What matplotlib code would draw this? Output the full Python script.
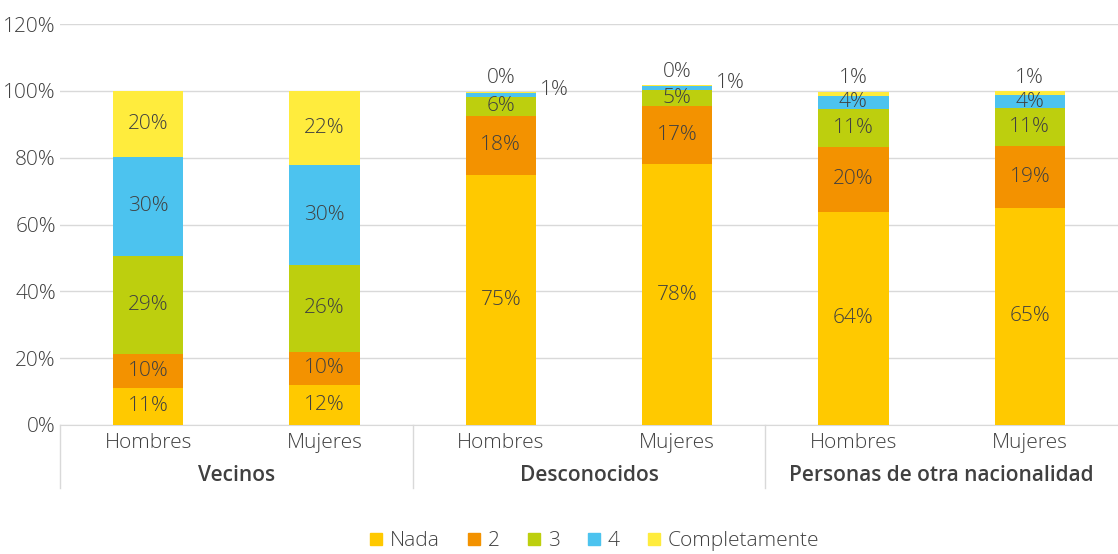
import numpy as np
import matplotlib.pyplot as plt
from matplotlib.lines import Line2D
from matplotlib.ticker import PercentFormatter
import matplotlib.transforms as mtransforms

# Datos (porcentajes)
grupos = ['Vecinos', 'Desconocidos', 'Personas de otra nacionalidad']
sexos = ['Hombres', 'Mujeres']
series = ['Nada', '2', '3', '4', 'Completamente']

nada = [11.1, 12.0, 74.9, 78.1, 63.8, 65.0]
dos = [10.2, 9.9, 17.6, 17.4, 19.5, 18.6]
tres = [29.3, 26.1, 5.8, 4.8, 11.3, 11.2]
cuatro = [29.6, 29.9, 1.0, 1.0, 3.9, 3.9]
completamente = [19.8, 22.1, 0.5, 0.4, 1.3, 1.2]

colores = ['#FFC900', '#F39200', '#BDCF0E', '#4CC3EF', '#FFEC3D']
texto = '#404040'
fs = 15

plt.rcParams['font.family'] = ['Open Sans', 'DejaVu Sans']
plt.rcParams['font.weight'] = 'light'

valores = [nada, dos, tres, cuatro, completamente]
x = np.arange(len(nada))

fig = plt.figure(figsize=(11.18, 5.54), dpi=100)
ax = fig.add_axes([60 / 1118, 129 / 554, 1058 / 1118, 401 / 554])

base = np.zeros(len(nada))
for s, vals in enumerate(valores):
    vals = np.array(vals)
    ax.bar(x, vals, 0.4, bottom=base, color=colores[s], zorder=3)
    for i, v in enumerate(vals):
        etiqueta = '%d%%' % round(v)
        top = base[i] + v
        if v >= 2:
            ax.text(x[i], base[i] + v / 2, etiqueta, ha='center', va='center',
                    fontsize=fs, color=texto, zorder=4)
        elif s == 4:
            # etiqueta encima de la barra
            ax.text(x[i], top + 1.0, etiqueta, ha='center', va='bottom',
                    fontsize=fs, color=texto, zorder=4)
        else:
            # etiqueta a la derecha de la barra
            ax.text(x[i] + 0.22, base[i] + v / 2 + 1.5, etiqueta, ha='left',
                    va='center', fontsize=fs, color=texto, zorder=4)
    base += vals

ax.set_xlim(-0.5, 5.5)
ax.set_ylim(0, 120)
ax.set_yticks(np.arange(0, 121, 20))
ax.yaxis.set_major_formatter(PercentFormatter(decimals=0))
ax.tick_params(axis='y', length=0, labelsize=fs, labelcolor=texto, pad=3)
ax.tick_params(axis='x', length=0, labelbottom=False)
ax.grid(axis='y', color='#D9D9D9', linewidth=1, zorder=0)
for lado in ['top', 'right', 'left']:
    ax.spines[lado].set_visible(False)
ax.spines['bottom'].set_color('#D9D9D9')

# Etiquetas del eje x en dos niveles
trans = mtransforms.blended_transform_factory(ax.transData, ax.transAxes)
for i in range(len(nada)):
    ax.text(x[i], -0.045, sexos[i % 2], transform=trans, ha='center', va='center',
            fontsize=fs, color=texto)
for g, nombre in enumerate(grupos):
    ax.text(2 * g + 0.5, -0.125, nombre, transform=trans, ha='center', va='center',
            fontsize=fs, fontweight='semibold', color=texto)
for pos in [-0.5, 1.5, 3.5]:
    ax.add_line(Line2D([pos, pos], [0, -0.157], transform=trans, color='#D9D9D9',
                       linewidth=1, clip_on=False))

handles = [Line2D([], [], marker='s', linestyle='none', markersize=8,
                  color=c) for c in colores]
fig.legend(handles, series, loc='center', bbox_to_anchor=(594 / 1118, 13 / 554),
           ncol=5, frameon=False, fontsize=fs, labelcolor=texto,
           handlelength=0.7, handletextpad=0.3, columnspacing=1.3)

fig.savefig('out.png', dpi=100)
